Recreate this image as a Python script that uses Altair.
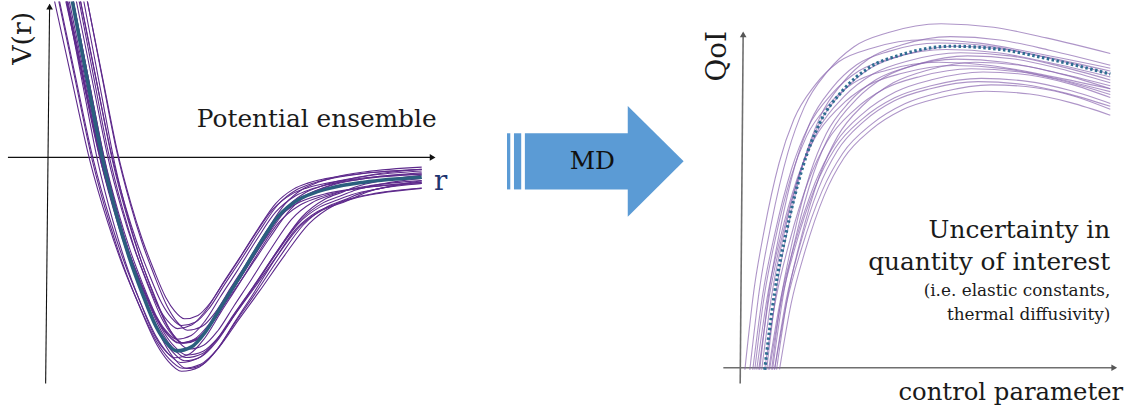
import altair as alt
import pandas as pd

SERIF = "DejaVu Serif"

# ---------------- left: ensemble of pair potentials ----------------
# mean potential sampled along r (well bottom at r0)
pot_r = [0.15, 0.25, 0.40, 0.55, 0.70, 0.82, 0.95, 1.09, 1.19, 1.30, 1.45,
         1.59, 1.75, 1.92, 2.12, 2.32, 2.52, 2.68, 2.85, 3.19, 3.77]
pot_v = [2.10, 1.57, 0.78, 0.00, -0.60, -1.00, -1.36, -1.70, -1.86, -1.95, -1.91,
         -1.76, -1.50, -1.23, -0.90, -0.60, -0.43, -0.36, -0.31, -0.25, -0.20]
# how strongly each sample follows a member's shift / stretch (tail end is pinned)
pot_follow = [1, 1, 1, 1, 1, 1, 1, 1, 1, 1, 1,
              1, 1, 1, 1, 1, 1, 1, 0.8, 0.5, 0.0]
pot_r0 = 1.30

# ensemble members: well shift, width factor, depth factor, lift
pot_shift = [0.06, 0.04, 0.08, 0.02, 0.10, 0.05, 0.08, 0.00, 0.12,
             0.03, 0.07, 0.09, -0.02, 0.11, 0.05, 0.01, 0.06, 0.10]
pot_width = [1.25, 1.18, 1.12, 1.05, 1.08, 0.95, 0.90, 0.98, 1.02,
             1.10, 0.92, 1.15, 1.03, 0.96, 1.20, 0.94, 1.00, 1.12]
pot_depth = [1.08, 1.06, 1.02, 0.98, 1.04, 0.90, 0.86, 0.95, 0.97,
             1.00, 0.92, 1.05, 1.01, 0.94, 1.09, 0.89, 0.99, 0.96]
pot_lift = [-0.02, 0.00, -0.06, 0.04, -0.10, 0.06, 0.05, 0.02, -0.04,
            0.08, -0.08, 0.03, -0.05, 0.09, -0.03, 0.01, 0.06, -0.12]

# ---------------- right: quantity of interest ----------------
qoi_c = [0.247, 0.347, 0.463, 0.63, 0.797, 1.03, 1.297, 1.63, 2.13, 2.63, 3.13, 3.73]
qoi_q = [-0.02, 0.757, 1.357, 2.023, 2.457, 2.79, 3.023, 3.157, 3.24, 3.207, 3.107, 2.96]
qoi_follow = [1, 1, 1, 1, 1, 1, 1, 0.9, 0.7, 0.5, 0.3, 0.0]
qoi_c0 = 0.25

qoi_shift = [-0.20, -0.15, -0.10, -0.06, -0.03, 0.00, 0.02, 0.05, 0.08, 0.10,
             0.12, 0.15, -0.12, -0.05, 0.04, 0.07, -0.08, 0.10]
qoi_width = [0.90, 1.00, 0.95, 1.10, 1.05, 1.15, 0.98, 1.20, 1.08, 1.25,
             1.12, 1.18, 1.02, 0.93, 1.22, 1.00, 1.06, 1.15]
qoi_scale = [1.02, 1.07, 0.95, 0.98, 1.00, 0.93, 1.03, 0.90, 0.97, 0.88,
             0.95, 0.86, 0.99, 1.01, 0.92, 0.96, 0.94, 0.89]

# ---------------- middle: block arrow ----------------
bar_x0 = [31, 38, 49]
bar_x1 = [34.3, 45.3, 153.5]
body_half = 28.3
head_x = [152.7, 209]
head_half = [55.8, 0.0]

PURPLE = "#5e2a8c"
TEAL = "#2b5f7e"
LIGHT_PURPLE = "#8c68b0"
DOT_BLUE = "#2f6d92"
ARROW_BLUE = "#5b9bd5"
INK = "#1a1a1a"


def members(xs, ys, follow, x0, shifts, widths, scales, lifts=None):
    rows = []
    for m, (d, w, s) in enumerate(zip(shifts, widths, scales)):
        c = lifts[m] if lifts is not None else 0.0
        for k, (x, y, f) in enumerate(zip(xs, ys, follow)):
            rows.append({"id": m, "k": k,
                         "x": x + (d + (w - 1.0) * (x - x0)) * f,
                         "y": s * y + c})
    return pd.DataFrame(rows)


def label(text, x, y, enc, size, align="center", baseline="alphabetic",
          angle=0, color=INK):
    return alt.Chart(pd.DataFrame({"x": [x], "y": [y], "t": [text]})).mark_text(
        font=SERIF, fontSize=size, align=align, baseline=baseline,
        angle=angle, color=color).encode(text="t:N", **enc)


H = 412

# ---- left panel ----
lx = alt.Scale(domain=[-0.48, 4.32], nice=False, zero=False)
ly = alt.Scale(domain=[-2.55, 1.57], nice=False, zero=False)

pot_members = members(pot_r, pot_v, pot_follow, pot_r0,
                      pot_shift, pot_width, pot_depth, pot_lift)
pot_mean = pd.DataFrame({"x": pot_r, "y": pot_v, "k": range(len(pot_r))})

left_axes = pd.DataFrame({"x": [-0.40, 0.02], "x2": [3.89, -0.02],
                          "y": [0.0, 1.54], "y2": [0.0, -2.28]})
left_heads = pd.DataFrame({"x": [3.88, 0.02], "y": [0.0, 1.52],
                           "shape": ["triangle-right", "triangle-up"]})

lenc = dict(x=alt.X("x:Q", scale=lx, axis=None), y=alt.Y("y:Q", scale=ly, axis=None))

left = alt.layer(
    alt.Chart(left_axes).mark_rule(color="#111", strokeWidth=1.1).encode(
        x=alt.X("x:Q", scale=lx, axis=None), x2="x2:Q",
        y=alt.Y("y:Q", scale=ly, axis=None), y2="y2:Q"),
    alt.Chart(left_heads).mark_point(filled=True, color="#111", size=45, opacity=1).encode(
        shape=alt.Shape("shape:N", scale=None), **lenc),
    alt.Chart(pot_members).mark_line(interpolate="monotone", clip=True,
                                     color=PURPLE, strokeWidth=1.1).encode(
        detail="id:N", order="k:Q", **lenc),
    alt.Chart(pot_mean).mark_line(interpolate="monotone", clip=True,
                                  color=TEAL, strokeWidth=3.6).encode(order="k:Q", **lenc),
    label("Potential ensemble", 3.92, 0.31, lenc, 25, align="right"),
    label("r", 3.96, -0.33, lenc, 28, color="#1f3570"),
    label("V(r)", -0.25, 1.20, lenc, 27, baseline="middle", angle=270),
).properties(width=480, height=H)

# ---- middle panel ----
mx = alt.Scale(domain=[0, 230], nice=False, zero=False)
my = alt.Scale(domain=[-251, 161], nice=False, zero=False)
menc = dict(x=alt.X("x:Q", scale=mx, axis=None), y=alt.Y("y:Q", scale=my, axis=None))

bars = pd.DataFrame({"x": bar_x0, "x2": bar_x1,
                     "y": [body_half] * 3, "y2": [-body_half] * 3})
head = pd.DataFrame({"x": head_x, "y": head_half, "y2": [-h for h in head_half]})

middle = alt.layer(
    alt.Chart(bars).mark_rect(color=ARROW_BLUE).encode(
        x=alt.X("x:Q", scale=mx, axis=None), x2="x2:Q",
        y=alt.Y("y:Q", scale=my, axis=None), y2="y2:Q"),
    alt.Chart(head).mark_area(color=ARROW_BLUE, opacity=1).encode(
        x=alt.X("x:Q", scale=mx, axis=None),
        y=alt.Y("y:Q", scale=my, axis=None), y2="y2:Q"),
    label("MD", 117, 0, menc, 25, baseline="middle", color="#111"),
).properties(width=230, height=H)

# ---- right panel ----
rx = alt.Scale(domain=[-0.27, 4.10], nice=False, zero=False)
ry = alt.Scale(domain=[-0.43, 3.69], nice=False, zero=False)
renc = dict(x=alt.X("x:Q", scale=rx, axis=None), y=alt.Y("y:Q", scale=ry, axis=None))

qoi_members = members(qoi_c, qoi_q, qoi_follow, qoi_c0, qoi_shift, qoi_width, qoi_scale)
qoi_mean = pd.DataFrame({"x": qoi_c, "y": qoi_q, "k": range(len(qoi_c))})

right_axes = pd.DataFrame({"x": [-0.17, 0.03], "x2": [3.78, 0.0],
                           "y": [0.0, 3.37], "y2": [0.0, -0.16]})
right_heads = pd.DataFrame({"x": [3.77, 0.03], "y": [0.0, 3.36],
                            "shape": ["triangle-right", "triangle-up"]})

notes = pd.DataFrame({
    "x": [3.73, 3.73, 3.73, 3.73],
    "y": [1.31, 0.98, 0.72, 0.48],
    "t": ["Uncertainty in", "quantity of interest",
          "(i.e. elastic constants,", "thermal diffusivity)"],
    "size": [25, 25, 17, 17],
})

right = alt.layer(
    alt.Chart(right_axes).mark_rule(color="#6f6f6f", strokeWidth=1.6).encode(
        x=alt.X("x:Q", scale=rx, axis=None), x2="x2:Q",
        y=alt.Y("y:Q", scale=ry, axis=None), y2="y2:Q"),
    alt.Chart(right_heads).mark_point(filled=True, color="#555", size=45, opacity=1).encode(
        shape=alt.Shape("shape:N", scale=None), **renc),
    alt.Chart(qoi_members).mark_line(interpolate="monotone", clip=True,
                                     color=LIGHT_PURPLE, strokeWidth=1.1, opacity=0.7).encode(
        detail="id:N", order="k:Q", **renc),
    alt.Chart(qoi_mean).mark_line(interpolate="monotone", clip=True, color=DOT_BLUE,
                                  strokeWidth=3.2, strokeDash=[2.5, 2.5]).encode(order="k:Q", **renc),
    alt.Chart(notes).mark_text(font=SERIF, align="right", baseline="alphabetic", color=INK)
    .encode(text="t:N", size=alt.Size("size:Q", scale=None), **renc),
    label("control parameter", 3.86, -0.33, renc, 24.5, align="right"),
    label("QoI", -0.22, 3.14, renc, 28, baseline="middle", angle=270),
).properties(width=437, height=H)

chart = alt.hconcat(left, middle, right, spacing=0).properties(
    padding=0, background="white"
).configure_view(stroke=None)

chart.save("out.html", embed_options={"renderer": "svg", "actions": False})
